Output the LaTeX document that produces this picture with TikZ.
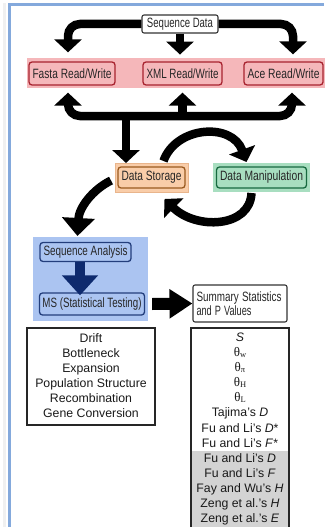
\documentclass[tikz,border=0pt]{standalone}
\usepackage{fontspec}
\usepackage{graphicx}
\setmainfont{Liberation Sans}
\newfontfamily\thetafont{Liberation Serif}
\usetikzlibrary{arrows.meta,calc}

\definecolor{frameblue}{HTML}{84A9DC}
\definecolor{bandpink}{HTML}{F5B7BA}
\definecolor{pinkedge}{HTML}{A8232F}
\definecolor{peach}{HTML}{F9CDA9}
\definecolor{peachrim}{HTML}{E9B58C}
\definecolor{brownedge}{HTML}{9A5A20}
\definecolor{mint}{HTML}{A8DEC0}
\definecolor{greenedge}{HTML}{17693F}
\definecolor{paleblue}{HTML}{ABC4F1}
\definecolor{navyedge}{HTML}{233E7C}
\definecolor{navy}{HTML}{0E2A6E}
\definecolor{listgrey}{HTML}{D3D3D3}

% condensed label: text squeezed horizontally to a given width
\newcommand{\squeeze}[2]{\resizebox{#1}{\height}{#2}}
\newcommand{\thetasub}[1]{{\thetafont\fontsize{13}{15}\selectfont θ\raisebox{-1pt}{\fontsize{8.5}{9}\selectfont #1}}}

\begin{document}
\begin{tikzpicture}[x=1pt,y=-1pt,
  box/.style={draw, rounded corners=3pt, line width=1.3pt, inner sep=0pt,
    font=\fontsize{13.5}{15}\selectfont, text=black!85},
  plainbox/.style={draw=black!80, rounded corners=2pt, line width=1.1pt, inner sep=0pt,
    font=\fontsize{13.5}{15}\selectfont, text=black!85},
  panel/.style={inner sep=0pt, outer sep=0pt},
  listbox/.style={draw=black!85, line width=1.2pt, inner sep=0pt},
  listtext/.style={align=center, font=\fontsize{12.3}{15.1}\selectfont, text=black!90, inner sep=0pt},
  bigarrow/.style={draw=black, line width=8.5pt, -{Triangle[width=27pt,length=13pt]}},
  bluearrow/.style={draw=navy, line width=10pt, -{Triangle[width=35pt,length=20pt]}},
]
\useasboundingbox (0,0) rectangle (324,527);

% window frame
\draw[line width=3pt, black!6] (4,3) -- (4,527);
\draw[line width=3pt, frameblue] (9.5,3.5) -- (9.5,527);
\draw[line width=3pt, frameblue] (8,5) -- (324,5);

% source
\node[plainbox, minimum width=76pt, minimum height=18pt] (seq) at (180,24) {\squeeze{66pt}{Sequence Data}};

% read/write band
\node[panel, fill=bandpink, minimum width=298pt, minimum height=30pt] (band) at (176,73) {};
\node[box, draw=pinkedge, fill=bandpink, minimum width=86pt, minimum height=23pt] (fasta) at (72,73.5) {\squeeze{79pt}{Fasta Read/Write}};
\node[box, draw=pinkedge, fill=bandpink, minimum width=79pt, minimum height=23pt] (xml) at (182.5,73.5) {\squeeze{72pt}{XML Read/Write}};
\node[box, draw=pinkedge, fill=bandpink, minimum width=79pt, minimum height=23pt] (ace) at (283.5,73.5) {\squeeze{72pt}{Ace Read/Write}};

% storage and manipulation
\node[panel, fill=peach, draw=peachrim, line width=0.8pt, minimum width=73pt, minimum height=29pt] (storagebg) at (151.5,177.5) {};
\node[box, draw=brownedge, fill=peach, minimum width=67pt, minimum height=21pt] (storage) at (151.5,177.5) {\squeeze{60pt}{Data Storage}};
\node[panel, fill=mint, minimum width=97pt, minimum height=29pt] (manipbg) at (261.5,177.5) {};
\node[box, draw=greenedge, fill=mint, minimum width=90pt, minimum height=21pt] (manip) at (261.5,177.5) {\squeeze{83pt}{Data Manipulation}};

% analysis block
\node[panel, fill=paleblue, minimum width=115pt, minimum height=84pt] (analysisbg) at (90.5,279) {};
\node[box, draw=navyedge, fill=paleblue, minimum width=91pt, minimum height=19pt] (seqan) at (85.5,252) {\squeeze{84pt}{Sequence Analysis}};
\node[box, draw=navyedge, fill=paleblue, minimum width=105pt, minimum height=22pt] (ms) at (92,304) {\squeeze{99pt}{MS (Statistical Testing)}};

% summary
\node[plainbox, align=left, minimum width=94pt, minimum height=37pt, text width=87pt] (summary) at (240,303.5)
  {\squeeze{85pt}{Summary Statistics}\\[-1.5pt]\squeeze{55pt}{and P Values}};

% scenario list
\node[listbox, minimum width=128pt, minimum height=97pt] (scen) at (91,376.5) {};
\node[listtext] (scentext) at (91,375.5)
  {Drift\\Bottleneck\\Expansion\\Population Structure\\Recombination\\Gene Conversion};

% statistics list
\fill[listgrey] (191,451) rectangle (289,540);
\node[listbox, minimum width=98pt, minimum height=212pt] (stats) at (240,434) {};
\node[listtext] (statstext) at (240,429)
  {\textit{S}\\ \thetasub{w}\\ \thetasub{π}\\ \thetasub{H}\\ \thetasub{L}\\
   Tajima’s \textit{D}\\ Fu and Li’s \textit{D}*\\ Fu and Li’s \textit{F}*\\
   Fu and Li’s \textit{D}\\ Fu and Li’s \textit{F}\\ Fay and Wu’s \textit{H}\\
   Zeng et al.’s \textit{H}\\ Zeng et al.’s \textit{E}};

% arrow ends
\coordinate (fastain) at ($(fasta.north)+(-4,-9)$);
\coordinate (acein) at ($(ace.north)+(9.5,-7)$);
\coordinate (hub) at (126,116);
\coordinate (fastaout) at ($(fasta.south)+(-4,7)$);
\coordinate (xmlout) at ($(xml.south)+(0,7)$);
\coordinate (aceout) at ($(ace.south)+(8.5,7)$);
\coordinate (storein) at ($(storagebg.north)+(-25.5,0)$);

% distribution to the readers
\draw[bigarrow, rounded corners=12pt] (seq.west) -| (fastain);
\draw[bigarrow] (seq.south) -- ($(seq.south)+(0,21)$);
\draw[bigarrow, rounded corners=12pt] (seq.east) -| (acein);

% collection from the readers
\draw[bigarrow, rounded corners=12pt] (hub) -| (fastaout);
\draw[bigarrow, rounded corners=12pt] (hub) -| (aceout);
\draw[bigarrow] (hub -| xmlout) -- (xmlout);
\draw[bigarrow] (hub) -- (storein);

% storage <-> manipulation loop
\draw[bigarrow] ($(storagebg.north)+(12,-2)$) .. controls (176,126) and (232,122) .. ($(manipbg.north)+(-15,-1)$);
\draw[bigarrow] ($(manipbg.south)+(-10,1)$) .. controls (250,228) and (196,230) .. ($(storagebg.south)+(13,7)$);

% storage to analysis
\draw[bigarrow, -{Triangle[width=32pt,length=18pt]}] ($(storagebg.west)+(-4,3)$) .. controls (92,190) and (79,208) .. ($(analysisbg.north)+(-13,-1)$);

% analysis flow
\draw[bluearrow] ($(seqan.south)+(-5.5,0)$) -- ($(ms.north)+(-12,3)$);
\draw[line width=12pt, -{Triangle[width=28pt,length=23pt]}] ($(ms.east)+(7,0)$) -- (summary.west);
\end{tikzpicture}
\end{document}
